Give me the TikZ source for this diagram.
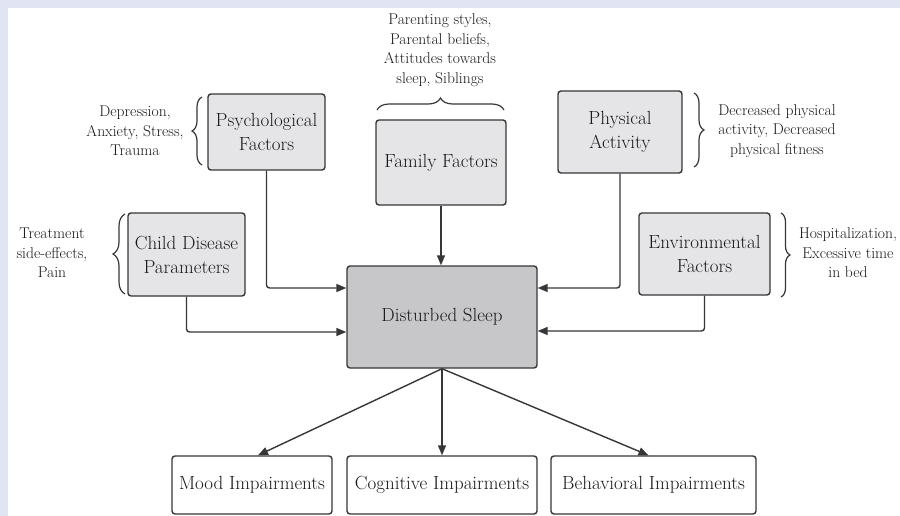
\documentclass[tikz,border=0pt]{standalone}
\usetikzlibrary{arrows.meta,decorations.pathreplacing}
\definecolor{framebg}{RGB}{225,228,243}
\definecolor{boxfill}{RGB}{229,229,231}
\definecolor{sleepfill}{RGB}{199,199,201}
\definecolor{linecol}{RGB}{55,55,55}
\definecolor{textcol}{RGB}{25,25,25}
\begin{document}
\begin{tikzpicture}[x=1pt,y=-1pt,
  factor/.style={draw=linecol,line width=1.4pt,rounded corners=3pt,fill=boxfill,
    align=center,text=textcol,inner sep=0pt,font=\fontsize{19}{24}\selectfont},
  outcome/.style={factor,fill=white,minimum height=58pt},
  note/.style={align=center,text=textcol,inner sep=0pt,font=\fontsize{15.6}{19.5}\selectfont},
  arr/.style={draw=linecol,line width=1.4pt,rounded corners=3pt,-{Triangle[length=10pt,width=8pt]}},
  curly/.style={draw=linecol,line width=1.2pt,decorate,decoration={brace,amplitude=#1}}]
\fill[framebg] (0,0) rectangle (900,516);
\fill[white] (8,8) rectangle (900,516);

\node[factor,minimum width=117pt,minimum height=76pt] (psych) at (266.5,132) {Psychological\\Factors};
\node[factor,minimum width=130pt,minimum height=85pt] (family) at (441,162.5) {Family Factors};
\node[factor,minimum width=124pt,minimum height=82pt] (physical) at (620,132) {Physical\\Activity};
\node[factor,minimum width=117pt,minimum height=83pt] (child) at (186.5,254.5) {Child Disease\\Parameters};
\node[factor,minimum width=131pt,minimum height=82pt] (environ) at (704.5,254) {Environmental\\Factors};
\node[factor,fill=sleepfill,minimum width=190pt,minimum height=102pt] (sleep) at (442,317) {Disturbed Sleep};

\node[outcome,minimum width=160pt] (mood) at (252,485) {Mood Impairments};
\node[outcome,minimum width=190pt] (cognitive) at (442,485) {Cognitive Impairments};
\node[outcome,minimum width=205pt] (behav) at (653.5,485) {Behavioral Impairments};

\node[note] (psychnote) at (135,131) {Depression,\\Anxiety, Stress,\\Trauma};
\node[note] (familynote) at (440,50) {Parenting styles,\\Parental beliefs,\\Attitudes towards\\sleep, Siblings};
\node[note] (physnote) at (777,131) {Decreased physical\\activity, Decreased\\physical fitness};
\node[note] (childnote) at (52,253) {Treatment\\side-effects,\\Pain};
\node[note] (envnote) at (848,253) {Hospitalization,\\Excessive time\\in bed};

\draw[curly=10pt] (202,165) -- (202,97);
\draw[curly=12pt] (377,110) -- (504,110);
\draw[curly=10pt] (694,93) -- (694,167);
\draw[curly=12pt] (125,294) -- (125,214);
\draw[curly=9pt] (781,213) -- (781,297);

\draw[arr] (psych.south) |- ([yshift=29pt]sleep.west);
\draw[arr] (child.south) |- ([yshift=-15pt]sleep.west);
\draw[arr] (family.south) -- (family.south |- sleep.north);
\draw[arr] (physical.south) |- ([yshift=29pt]sleep.east);
\draw[arr] (environ.south) |- ([yshift=-14pt]sleep.east);

\draw[arr] (sleep.south) -- ([xshift=6pt]mood.north);
\draw[arr] (sleep.south) -- (cognitive.north);
\draw[arr] (sleep.south) -- ([xshift=-5pt]behav.north);
\end{tikzpicture}
\end{document}
